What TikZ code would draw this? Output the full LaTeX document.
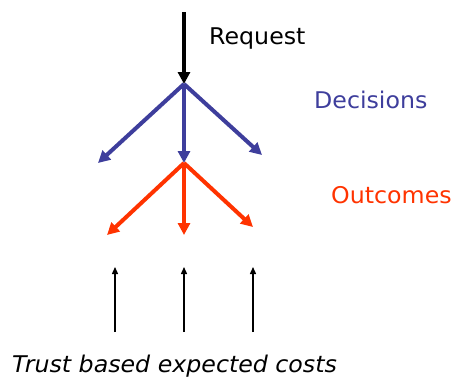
\documentclass[tikz,border=0pt]{standalone}
\usepackage{fontspec}
\setmainfont{DejaVu Sans}[FakeStretch=1.03]
\usetikzlibrary{arrows.meta}
\definecolor{decblue}{RGB}{62,62,156}
\definecolor{outred}{RGB}{255,51,0}
\tikzset{
  thick arrow/.style={line width=4pt, -{Triangle[length=12pt,width=12pt]}},
  thin arrow/.style={line width=1.4pt, black, -{Triangle[length=7pt,width=6pt]}},
  label text/.style={anchor=base west, inner sep=0pt, font=\fontsize{23}{27}\selectfont}
}
\begin{document}
\begin{tikzpicture}[x=1pt,y=-1pt]
\useasboundingbox (0,0) rectangle (455,378);
% points
\coordinate (top) at (184,12);
\coordinate (dec) at (184,84);
\coordinate (dl) at (98,163);
\coordinate (dm) at (184,163);
\coordinate (dr) at (262,155);
\coordinate (ol) at (107,235);
\coordinate (om) at (184,235);
\coordinate (or) at (253,227);
\coordinate (bl) at (115,332);
\coordinate (bm) at (184,332);
\coordinate (br) at (253,332);
\coordinate (tl) at (115,267);
\coordinate (tm) at (184,267);
\coordinate (tr) at (253,267);
% arrows
\draw[thick arrow, black] (top) -- (dec);
\draw[thick arrow, decblue] (dec) -- (dl);
\draw[thick arrow, decblue] (dec) -- (dm);
\draw[thick arrow, decblue] (dec) -- (dr);
\draw[thick arrow, outred] (dm) -- (ol);
\draw[thick arrow, outred] (dm) -- (om);
\draw[thick arrow, outred] (dm) -- (or);
\draw[thin arrow] (bl) -- (tl);
\draw[thin arrow] (bm) -- (tm);
\draw[thin arrow] (br) -- (tr);
% labels
\node[label text] (request) at (209,44) {Request};
\node[label text, text=decblue] (decisions) at (314,108) {Decisions};
\node[label text, text=outred] (outcomes) at (331,203) {Outcomes};
\node[label text, font=\fontsize{23}{27}\selectfont\itshape] (trust) at (12,372) {Trust based expected costs};
\end{tikzpicture}
\end{document}
